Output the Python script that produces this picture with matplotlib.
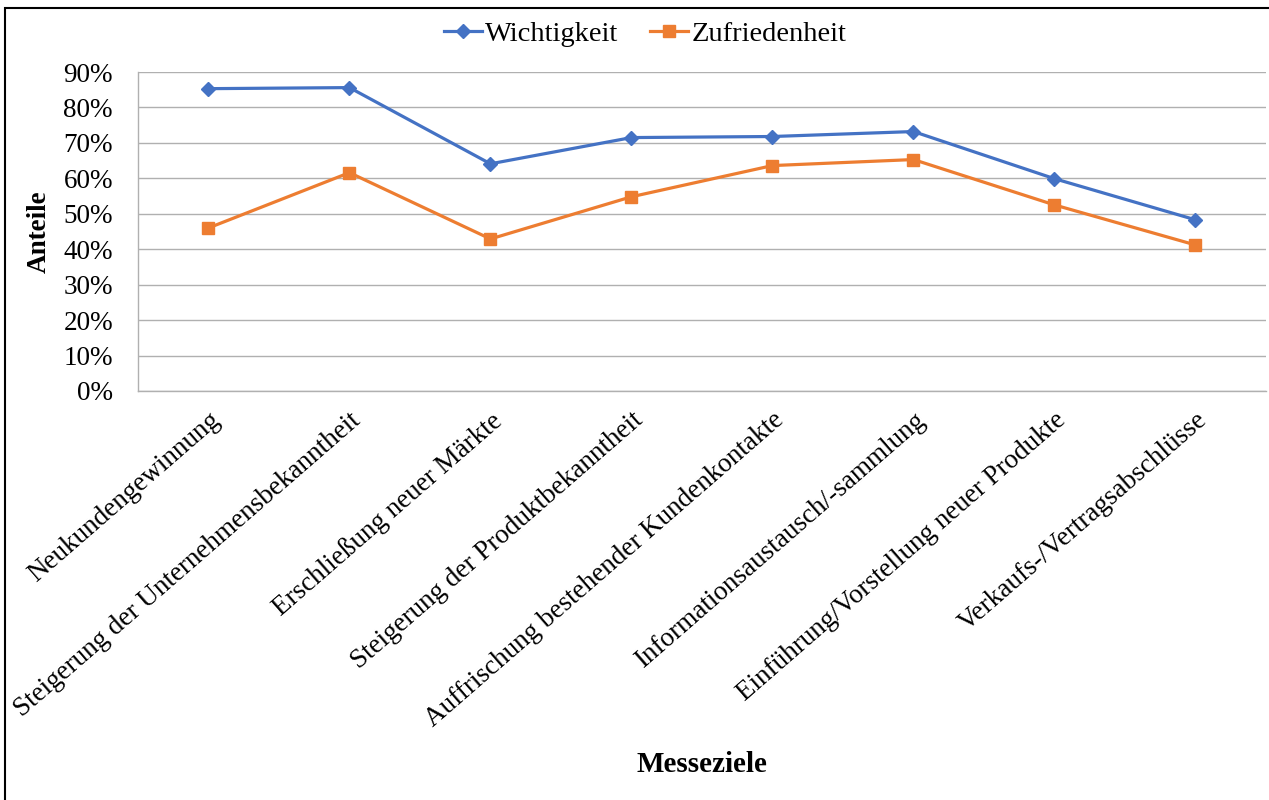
import matplotlib.pyplot as plt
from matplotlib.patches import Rectangle
from matplotlib.ticker import PercentFormatter

categories = ['Neukundengewinnung', 'Steigerung der Unternehmensbekanntheit',
              'Erschließung neuer Märkte', 'Steigerung der Produktbekanntheit',
              'Auffrischung bestehender Kundenkontakte', 'Informationsaustausch/-sammlung',
              'Einführung/Vorstellung neuer Produkte', 'Verkaufs-/Vertragsabschlüsse']
wichtigkeit = [85.3, 85.6, 64.1, 71.5, 71.8, 73.2, 59.9, 48.3]
zufriedenheit = [46.0, 61.6, 42.9, 54.8, 63.6, 65.3, 52.5, 41.2]

plt.rcParams['font.family'] = ['Liberation Serif', 'DejaVu Serif']

fig = plt.figure(figsize=(12.69, 8), dpi=100)
ax = fig.add_axes([0.1087, 0.51125, 0.8889, 0.39875])

x = list(range(len(categories)))
ax.plot(x, wichtigkeit, color='#4472C4', marker='D', markersize=7.5, linewidth=2.3, label='Wichtigkeit')
ax.plot(x, zufriedenheit, color='#ED7D31', marker='s', markersize=9, linewidth=2.3, label='Zufriedenheit')

ax.set_xlim(-0.5, len(categories) - 0.5)
ax.set_ylim(0, 90)
ax.set_yticks(range(0, 91, 10))
ax.yaxis.set_major_formatter(PercentFormatter(decimals=0))
ax.set_xticks(x)
ax.set_xticklabels(categories, rotation=41, ha='right', rotation_mode='anchor', fontsize=19.5)
ax.tick_params(axis='y', labelsize=19.5, length=0, pad=18)
ax.tick_params(axis='x', length=0, pad=12)
ax.grid(axis='y', color='#b0b0b0', linewidth=1)
ax.set_axisbelow(True)
for s in ['top', 'right']:
    ax.spines[s].set_visible(False)
for s in ['left', 'bottom']:
    ax.spines[s].set_color('#b0b0b0')
    ax.spines[s].set_linewidth(1)

ax.set_ylabel('Anteile', fontsize=19.5, fontweight='bold', labelpad=8)
fig.text(0.553, 0.045, 'Messeziele', fontsize=21, fontweight='bold', ha='center', va='center')

ax.legend(loc='center', bbox_to_anchor=((645 / 1269 - 0.1087) / 0.8889, 1.12), ncol=2,
          frameon=False, fontsize=20.5, handlelength=1.35, columnspacing=1.1, handletextpad=0.1)

fig.patches.append(Rectangle((5 / 1269, -0.01), 1.0, 1 - 8 / 800 + 0.01, transform=fig.transFigure,
                             fill=False, edgecolor='black', linewidth=1.5))

fig.savefig('out.png', dpi=100)
